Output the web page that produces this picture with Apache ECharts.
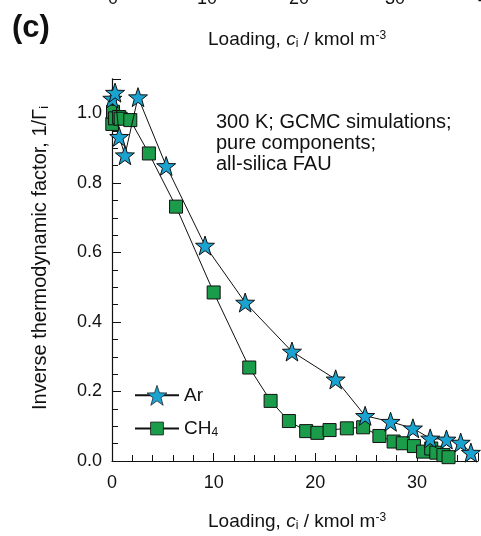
<!DOCTYPE html>
<html>
<head>
<meta charset="utf-8">
<script src="https://cdn.jsdelivr.net/npm/echarts@6/dist/echarts.min.js"></script>
<style>
html,body{margin:0;padding:0;background:#fff;}
#c{width:481px;height:536px;}
</style>
</head>
<body>
<div id="c"></div>
<script>
// Ar (stars)
var arLoading = [0.03, 0.3, 0.71, 1.27, 2.56, 5.33, 9.15, 13.1, 17.7, 22.0, 24.9, 27.4, 29.6, 31.3, 32.9, 34.3, 35.3];
var arInv     = [1.043, 1.06, 0.933, 0.88, 1.047, 0.849, 0.62, 0.456, 0.315, 0.235, 0.13, 0.113, 0.094, 0.065, 0.062, 0.053, 0.024];
// CH4 (squares)
var ch4Loading = [0.03, 0.1, 0.3, 0.7, 0.85, 1.8, 3.63, 6.3, 10.0, 13.5, 15.6, 17.4, 19.1, 20.2, 21.4, 23.1, 24.7, 26.3, 27.7, 28.6, 29.7, 30.6, 31.4, 31.9, 32.6, 33.1];
var ch4Inv     = [0.97, 1.005, 0.986, 0.99, 0.985, 0.981, 0.885, 0.732, 0.485, 0.269, 0.173, 0.115, 0.086, 0.081, 0.089, 0.094, 0.097, 0.072, 0.056, 0.051, 0.043, 0.027, 0.036, 0.024, 0.017, 0.011];
var seriesNames = ['Ar', 'CH4'];
var xTicks = [0, 10, 20, 30];
var upperTickLabels = ['0', '10', '20', '30', '40'];
var noteLines = ['300 K; GCMC simulations;', 'pure components;', 'all-silica FAU'];

function pairs(xs, ys){ return xs.map(function(x,i){ return [x, ys[i]]; }); }

var FONT = 'Liberation Sans, Arial, sans-serif';
var STAR = 'path://M0,-10 L2.35,-3.24 L9.51,-3.09 L3.8,1.24 L5.88,8.09 L0,4 L-5.88,8.09 L-3.8,1.24 L-9.51,-3.09 L-2.35,-3.24 Z';
var chart = echarts.init(document.getElementById('c'), null, {renderer:'canvas'});
var upperX = [113, 207, 299, 395, 488];
var subRich = {fontSize:12, verticalAlign:'bottom', padding:[8,0,0,0], fontFamily:FONT};
var supRich = {fontSize:12, verticalAlign:'top', padding:[0,0,8,0], fontFamily:FONT};

var graphics = [
  {type:'text', left:12, top:13, style:{text:'(c)', font:'bold 31px ' + FONT, fill:'#111'}},
  {type:'text', left:208, top:30, style:{text:'Loading, {it|c}{sub|i} / kmol m{sup|-3}', font:'19px ' + FONT, fill:'#111',
     rich:{it:{fontStyle:'italic', fontSize:19, fontFamily:FONT}, sub:subRich, sup:supRich}}},
  {type:'text', left:208, top:512, style:{text:'Loading, {it|c}{sub|i} / kmol m{sup|-3}', font:'19px ' + FONT, fill:'#111',
     rich:{it:{fontStyle:'italic', fontSize:19, fontFamily:FONT}, sub:subRich, sup:supRich}}},
  {type:'text', x:40, y:258, rotation:Math.PI/2, style:{text:'Inverse thermodynamic factor, 1/\u0393{sub|i}', font:'20px ' + FONT, fill:'#111', align:'center', verticalAlign:'middle',
     rich:{sub:{fontSize:13, verticalAlign:'bottom', padding:[8,0,0,0], fontFamily:FONT}}}}
];
upperTickLabels.forEach(function(t,i){
  graphics.push({type:'text', x:upperX[i], y:8, style:{text:t, font:'18px ' + FONT, fill:'#111', align:'center', verticalAlign:'bottom'}});
});
noteLines.forEach(function(t,i){
  graphics.push({type:'text', left:216, top:112 + i*21, style:{text:t, font:'20px ' + FONT, fill:'#111'}});
});

var legendText = {fontSize:19, fontFamily:FONT, color:'#111', rich:{sub:subRich}};
function legendFmt(n){ return n === 'CH4' ? 'CH{sub|4}' : n; }

chart.setOption({
  animation:false,
  backgroundColor:'#fff',
  grid:{left:112, top:78.75, width:370, height:382.25, containLabel:false},
  xAxis:{
    type:'value', min:0, max:36, interval:10,
    axisLine:{show:true, lineStyle:{color:'#111', width:1.2}},
    axisTick:{show:true, inside:true, length:8, lineStyle:{color:'#111'}},
    minorTick:{show:true, splitNumber:5, length:6, lineStyle:{color:'#111'}},
    splitLine:{show:false},
    axisLabel:{color:'#111', fontSize:18, fontFamily:FONT, margin:13,
      formatter:function(v){ return xTicks.indexOf(v) >= 0 ? String(v) : ''; }}
  },
  yAxis:{
    type:'value', min:0, max:1.1, interval:0.2,
    axisLine:{show:true, lineStyle:{color:'#111', width:1.2}},
    axisTick:{show:true, inside:true, length:9, lineStyle:{color:'#111'}},
    minorTick:{show:true, splitNumber:4, length:6, lineStyle:{color:'#111'}},
    splitLine:{show:false},
    axisLabel:{color:'#111', fontSize:18, fontFamily:FONT, margin:10,
      formatter:function(v){ var r = Math.round(v*10)/10; return (Math.abs(v - r) < 1e-6 && Math.round(r*10)%2===0) ? r.toFixed(1) : ''; }}
  },
  legend:[
    {left:129, top:380, itemWidth:44, itemHeight:25, textStyle:legendText, formatter:legendFmt,
     itemStyle:{borderWidth:0.7, borderColor:'#111'}, data:[seriesNames[0]]},
    {left:129, top:414, itemWidth:44, itemHeight:16, textStyle:legendText, formatter:legendFmt,
     itemStyle:{borderWidth:0.8, borderColor:'#111'}, data:[seriesNames[1]]}
  ],
  graphic:graphics,
  series:[
    {name:seriesNames[1], type:'line', data:pairs(ch4Loading, ch4Inv), symbol:'rect', symbolSize:13, clip:false, z:2,
     lineStyle:{color:'#111', width:1}, itemStyle:{color:'#1a9c4a', borderColor:'#111', borderWidth:1}},
    {name:seriesNames[0], type:'line', data:pairs(arLoading, arInv), symbol:STAR, symbolSize:19, clip:false, z:3,
     lineStyle:{color:'#111', width:1}, itemStyle:{color:'#1aa3d0', borderColor:'#111', borderWidth:1}}
  ]
});
</script>
</body>
</html>
